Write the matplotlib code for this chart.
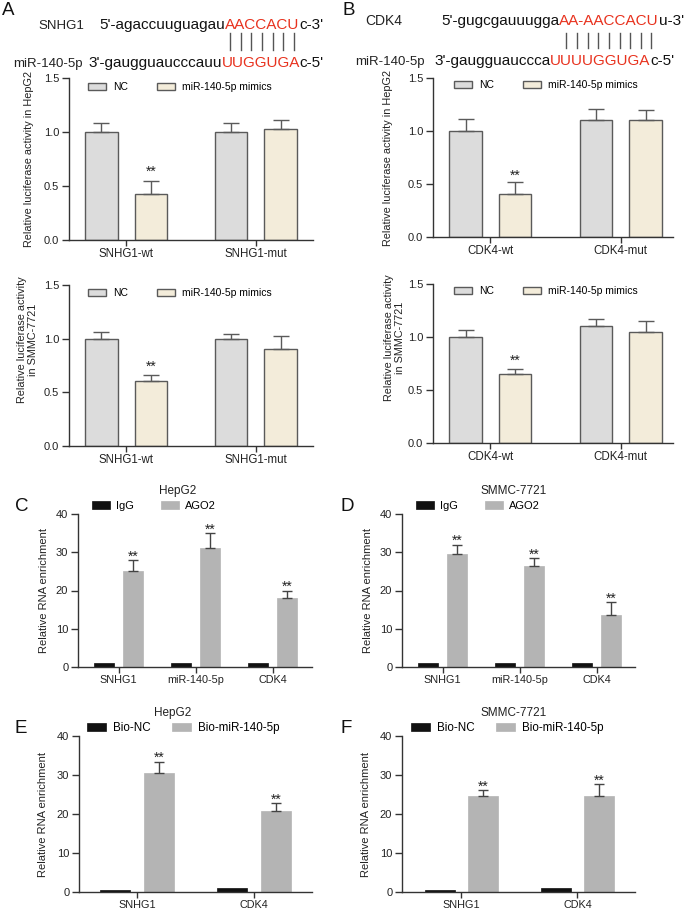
import numpy as np
import matplotlib
matplotlib.use("Agg")
import matplotlib.pyplot as plt

plt.rcParams['font.family'] = ['Liberation Sans', 'DejaVu Sans']

# luciferase reporter data (A, B)
snhg1_groups = ["SNHG1-wt", "SNHG1-mut"]
cdk4_groups = ["CDK4-wt", "CDK4-mut"]

hep_snhg1_nc = [1.00, 1.00]
hep_snhg1_nc_err = [0.08, 0.08]
hep_snhg1_mim = [0.43, 1.03]
hep_snhg1_mim_err = [0.12, 0.08]

smmc_snhg1_nc = [1.00, 1.00]
smmc_snhg1_nc_err = [0.06, 0.045]
smmc_snhg1_mim = [0.61, 0.905]
smmc_snhg1_mim_err = [0.05, 0.12]

hep_cdk4_nc = [1.00, 1.10]
hep_cdk4_nc_err = [0.11, 0.11]
hep_cdk4_mim = [0.41, 1.10]
hep_cdk4_mim_err = [0.11, 0.10]

smmc_cdk4_nc = [1.00, 1.10]
smmc_cdk4_nc_err = [0.07, 0.07]
smmc_cdk4_mim = [0.65, 1.05]
smmc_cdk4_mim_err = [0.05, 0.10]

luc_sig = ["**", ""]

# RIP data (C, D)
rip_groups = ["SNHG1", "miR-140-5p", "CDK4"]
hep_igg = [1.0, 1.0, 1.0]
hep_ago2 = [25.0, 31.0, 18.0]
hep_ago2_err = [2.9, 4.0, 2.0]
smmc_igg = [1.0, 1.0, 1.0]
smmc_ago2 = [29.5, 26.5, 13.5]
smmc_ago2_err = [2.5, 2.0, 3.5]
rip_sig = ["**", "**", "**"]

# pull-down data (E, F)
pull_groups = ["SNHG1", "CDK4"]
hep_bionc = [0.5, 1.0]
hep_biomir = [30.5, 20.7]
hep_biomir_err = [2.9, 2.0]
smmc_bionc = [0.5, 1.0]
smmc_biomir = [24.6, 24.6]
smmc_biomir_err = [1.5, 3.0]
pull_sig = ["**", "**"]

W, H = 685, 913
fig = plt.figure(figsize=(W / 100, H / 100), dpi=100)
renderer = fig.canvas.get_renderer()

NC_COL = "#dcdcdc"
MIM_COL = "#f3ecda"
EDGE = "#5a5a5a"
DARK = "#111111"
GRAY = "#b4b4b4"
RED = "#e8321e"


def box(x0, x1, y0, y1):
    return [x0 / W, 1 - y1 / H, (x1 - x0) / W, (y1 - y0) / H]


def fig_xy(x, y):
    return (x / W, 1 - y / H)


def style(ax, ylim, yticks, fmt, xlim, ticksize, xsize):
    ax.set_ylim(*ylim)
    ax.set_xlim(*xlim)
    ax.set_yticks(yticks)
    ax.set_yticklabels([fmt.format(v) for v in yticks], fontsize=ticksize, color="#222222")
    for s in ["top", "right"]:
        ax.spines[s].set_visible(False)
    for s in ["left", "bottom"]:
        ax.spines[s].set_color("#333333")
        ax.spines[s].set_linewidth(1.0)
    ax.tick_params(axis="y", direction="out", length=5, width=1, color="#333333", pad=2)
    ax.tick_params(axis="x", direction="out", length=4, width=1, color="#333333", pad=2,
                   labelsize=xsize, labelcolor="#222222")


def stars(ax, xs, tops, marks, off):
    for x, t, m in zip(xs, tops, marks):
        if m:
            ax.annotate(m, (x, t), xytext=(0, off), textcoords="offset points",
                        ha="center", va="center", fontsize=10, color="#222222")


def luc_panel(rect, groups, nc, nc_err, mim, mim_err, ylabel, label_pos, xlim, leg_xy, star_off):
    ax = fig.add_axes(box(*rect))
    x = np.arange(len(groups))
    off, w = 0.19, 0.25
    ek = dict(ecolor=EDGE, elinewidth=1, capthick=1)
    b1 = ax.bar(x - off, nc, w, color=NC_COL, edgecolor=EDGE, linewidth=1,
                yerr=[np.zeros(len(nc)), nc_err], capsize=5.5, error_kw=ek, label="NC")
    b2 = ax.bar(x + off, mim, w, color=MIM_COL, edgecolor=EDGE, linewidth=1,
                yerr=[np.zeros(len(mim)), mim_err], capsize=5.5, error_kw=ek,
                label="miR-140-5p mimics")
    style(ax, (0, 1.5), [0, 0.5, 1.0, 1.5], "{:.1f}", xlim, 8, 8.3)
    ax.set_xticks(x)
    ax.set_xticklabels(groups)
    ax.set_ylabel(ylabel, fontsize=7.8, color="#222222", linespacing=1.15)
    ax.yaxis.set_label_coords(*label_pos)
    stars(ax, x + off, np.array(mim) + np.array(mim_err), luc_sig, star_off)
    ax.legend(handles=[b1, b2], loc="center left", bbox_to_anchor=fig_xy(*leg_xy),
              bbox_transform=fig.transFigure, ncol=2, frameon=False, fontsize=7.5,
              handlelength=1.75, handleheight=0.7, handletextpad=0.7,
              columnspacing=2.7, borderpad=0, borderaxespad=0)
    return ax


def rna_panel(rect, groups, ctrl, treat, treat_err, sig, names, title, title_x, xlim,
              leg_xy, leg_size, colsp, off, w, label_x):
    ax = fig.add_axes(box(*rect))
    x = np.arange(len(groups))
    b1 = ax.bar(x - off, ctrl, w, color=DARK, edgecolor=DARK, linewidth=0.5, label=names[0])
    b2 = ax.bar(x + off, treat, w, color=GRAY, edgecolor=GRAY, linewidth=0.5,
                yerr=[np.zeros(len(treat)), treat_err], capsize=3.5,
                error_kw=dict(ecolor="#444444", elinewidth=1, capthick=1), label=names[1])
    style(ax, (0, 40), [0, 10, 20, 30, 40], "{:d}", xlim, 8, 7.8)
    ax.set_xticks(x)
    ax.set_xticklabels(groups)
    ax.set_ylabel("Relative RNA enrichment", fontsize=8, color="#222222")
    ax.yaxis.set_label_coords(label_x, 0.5)
    stars(ax, x + off, np.array(treat) + np.array(treat_err), sig, 2.6)
    fig.text(*fig_xy(title_x, rect[2] - 23), title, ha="center", va="center",
             fontsize=8.5, color="#222222")
    ax.legend(handles=[b1, b2], loc="center left", bbox_to_anchor=fig_xy(*leg_xy),
              bbox_transform=fig.transFigure, ncol=2, frameon=False, fontsize=leg_size,
              handlelength=1.6, handleheight=0.7, handletextpad=0.6,
              columnspacing=colsp, borderpad=0, borderaxespad=0)
    return ax


# A / B luciferase panels
luc_panel((69, 313, 78, 240), snhg1_groups, hep_snhg1_nc, hep_snhg1_nc_err,
          hep_snhg1_mim, hep_snhg1_mim_err, "Relative luciferase activity in HepG2",
          (-0.145, 0.5), (-0.44, 1.44), (88, 87), 6.2)
luc_panel((69, 313, 285, 446), snhg1_groups, smmc_snhg1_nc, smmc_snhg1_nc_err,
          smmc_snhg1_mim, smmc_snhg1_mim_err, "Relative luciferase activity\nin SMMC-7721",
          (-0.127, 0.66), (-0.44, 1.44), (88, 293), 6.2)
luc_panel((433, 673, 78, 237), cdk4_groups, hep_cdk4_nc, hep_cdk4_nc_err,
          hep_cdk4_mim, hep_cdk4_mim_err, "Relative luciferase activity in HepG2",
          (-0.167, 0.5), (-0.44, 1.40), (454, 85), 4.5)
luc_panel((433, 673, 284, 443), cdk4_groups, smmc_cdk4_nc, smmc_cdk4_nc_err,
          smmc_cdk4_mim, smmc_cdk4_mim_err, "Relative luciferase activity\nin SMMC-7721",
          (-0.117, 0.66), (-0.44, 1.40), (454, 291), 5.5)

# C / D RIP panels
rna_panel((78, 312, 514, 667), rip_groups, hep_igg, hep_ago2, hep_ago2_err, rip_sig,
          ["IgG", "AGO2"], "HepG2", 178, (-0.526, 2.51), (92, 506), 8, 2.4, 0.188, 0.26,
          -0.124)
rna_panel((402, 635, 514, 667), rip_groups, smmc_igg, smmc_ago2, smmc_ago2_err, rip_sig,
          ["IgG", "AGO2"], "SMMC-7721", 514, (-0.526, 2.50), (416, 506), 8, 2.4, 0.188, 0.26,
          -0.124)

# E / F pull-down panels
rna_panel((79, 312, 736, 892), pull_groups, hep_bionc, hep_biomir, hep_biomir_err, pull_sig,
          ["Bio-NC", "Bio-miR-140-5p"], "HepG2", 173, (-0.496, 1.496), (87, 728), 8.4, 1.9,
          0.186, 0.256, -0.133)
rna_panel((402, 635, 736, 892), pull_groups, smmc_bionc, smmc_biomir, smmc_biomir_err, pull_sig,
          ["Bio-NC", "Bio-miR-140-5p"], "SMMC-7721", 514, (-0.513, 1.496), (411, 728), 8.4,
          1.9, 0.186, 0.256, -0.133)


# sequence pairing diagrams
def seq_line(x_px, y_px, parts, size=11):
    spans = []
    for s, c in parts:
        t = fig.text(*fig_xy(x_px, y_px), s, color=c, fontsize=size, ha="left", va="baseline")
        bb = t.get_window_extent(renderer)
        spans.append((bb.x0, bb.x1))
        x_px = bb.x1
    return spans


def pair_bars(span, n, y0, y1):
    a, b = span
    step = (b - a) / n
    for i in range(n):
        xb = a + step * (i + 0.5)
        fig.add_artist(plt.Line2D([xb / W, xb / W], [1 - y0 / H, 1 - y1 / H],
                                  transform=fig.transFigure, color="#555555", lw=1))


fig.text(*fig_xy(38, 29), "SNHG1", fontsize=9.5, va="baseline", color="#222222")
fig.text(*fig_xy(13, 67), "miR-140-5p", fontsize=9.5, va="baseline", color="#222222")
top_a = seq_line(99, 29, [("5'-agaccuuguagau", "#111111"), ("AACCACU", RED), ("c-3'", "#111111")])
seq_line(88, 67, [("3'-gaugguaucccauu", "#111111"), ("UUGGUGA", RED), ("c-5'", "#111111")])
pair_bars(top_a[1], 7, 33, 50)

fig.text(*fig_xy(365, 25), "CDK4", fontsize=10, va="baseline", color="#222222")
fig.text(*fig_xy(355, 65), "miR-140-5p", fontsize=9.5, va="baseline", color="#222222")
top_b = seq_line(441, 25, [("5'-gugcgauuugga", "#111111"), ("AA-AACCACU", RED), ("u-3'", "#111111")])
seq_line(434, 65, [("3'-gaugguauccca", "#111111"), ("UUUUGGUGA", RED), ("c-5'", "#111111")])
a, b = top_b[1]
lw = (b - a) / 10
pair_bars((a + lw * 0.2, b - lw * 0.2), 9, 33, 48)

# panel letters
for letter, px, py in [("A", 2, 15), ("B", 342, 15), ("C", 15, 511), ("D", 340, 511),
                       ("E", 15, 733), ("F", 340, 733)]:
    fig.text(*fig_xy(px, py), letter, fontsize=13.5, va="baseline", ha="left", color="#111111")

fig.savefig("out.png", dpi=100)
